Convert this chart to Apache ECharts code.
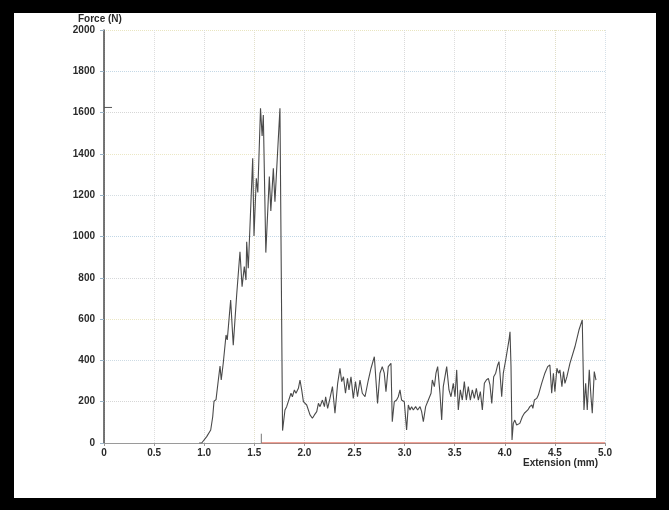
<!DOCTYPE html>
<html>
<head>
<meta charset="utf-8">
<script src="https://cdn.jsdelivr.net/npm/echarts@6/dist/echarts.min.js"></script>
<style>
  html, body { margin: 0; padding: 0; background: #fff; }
  #chart { width: 669px; height: 510px; }
</style>
</head>
<body>
<div id="chart"></div>
<script>
// Tensile test record: force versus crosshead extension
const extensionMm = [
  0.95, 0.975, 1.025, 1.065, 1.085, 1.098, 1.118, 1.141, 1.158, 1.17, 1.19, 1.218, 1.23,
  1.264, 1.29, 1.324, 1.34, 1.357, 1.378, 1.40, 1.417, 1.424, 1.44, 1.484, 1.497, 1.52,
  1.535, 1.562, 1.578, 1.59, 1.615, 1.65, 1.665, 1.69, 1.706, 1.756, 1.782,
  1.806, 1.823, 1.84, 1.866, 1.88, 1.9, 1.916, 1.94, 1.956, 1.973, 1.99, 2.023, 2.056,
  2.08, 2.1, 2.123, 2.14, 2.156, 2.18, 2.2, 2.212, 2.232, 2.255, 2.28, 2.305, 2.332,
  2.355, 2.372, 2.39, 2.41, 2.43, 2.445, 2.465, 2.488, 2.51, 2.53, 2.555, 2.578,
  2.605, 2.638, 2.665, 2.698, 2.73, 2.754, 2.777, 2.797, 2.814, 2.837, 2.864, 2.877,
  2.897, 2.92, 2.937, 2.954, 2.97, 2.997, 3.02, 3.037, 3.054, 3.07, 3.087, 3.11, 3.13,
  3.154, 3.17, 3.187, 3.21, 3.237, 3.264, 3.277, 3.297, 3.313, 3.33, 3.353, 3.37,
  3.386, 3.42, 3.443, 3.463, 3.486, 3.503, 3.52, 3.536, 3.556, 3.576, 3.596, 3.616,
  3.636, 3.656, 3.676, 3.696, 3.716, 3.736, 3.756, 3.776, 3.796, 3.816, 3.836, 3.852,
  3.87, 3.889, 3.909, 3.929, 3.942, 3.952, 3.969, 3.985, 4.009, 4.042, 4.052, 4.062,
  4.072, 4.085, 4.1, 4.118, 4.135, 4.15, 4.175, 4.195, 4.21, 4.23, 4.25, 4.27, 4.28,
  4.295, 4.318, 4.335, 4.368, 4.4, 4.428, 4.45, 4.468, 4.485, 4.5, 4.52, 4.536, 4.55,
  4.57, 4.586, 4.6, 4.62, 4.65, 4.70, 4.74, 4.773, 4.79, 4.807, 4.823, 4.843, 4.86,
  4.873, 4.893, 4.91
];
const forceN = [
  0, 0, 31, 63, 127, 202, 210, 305, 373, 305, 386, 523, 499,
  692, 474, 717, 725, 926, 757, 854, 789, 975, 846, 1379, 1003, 1282,
  1213, 1621, 1487, 1588, 922, 1290, 1124, 1330, 1168, 1621, 60,
  160, 176, 168, 241, 224, 257, 241, 265, 305, 257, 200, 184, 136,
  120, 136, 152, 192, 176, 208, 176, 224, 168, 216, 273, 144, 289,
  362, 297, 321, 241, 313, 257, 321, 216, 297, 224, 305, 241,
  224, 305, 362, 418, 192, 338, 370, 338, 249, 370, 386, 103,
  200, 208, 224, 257, 208, 200, 63, 184, 160, 176, 160, 176, 160,
  176, 152, 103, 176, 208, 241, 305, 273, 338, 370, 241, 111,
  273, 370, 257, 224, 289, 224, 354, 160, 257, 208, 297, 208,
  273, 208, 257, 216, 265, 208, 249, 160, 289, 305, 313, 281,
  192, 321, 338, 378, 394, 338, 224, 338, 402, 499, 539, 370,
  15, 95, 111, 87, 79, 95, 127, 144, 136, 160, 176, 184, 168,
  208, 216, 232, 289, 338, 370, 378, 241, 338, 249, 362, 338, 354,
  273, 346, 289, 321, 386, 466, 547, 596, 160, 289, 160, 354, 224,
  144, 346, 305
];
// Red trace along the zero line after the first grip slip
const baselineX = [1.57, 5.0];
const baselineY = [0, 0];
// Short ticks drawn by the recorder
const slipTickX = [1.57, 1.57];
const slipTickY = [0, 45];
const startTickX = [0, 0.08];
const startTickY = [1625, 1625];

const xTicks = [0, 0.5, 1.0, 1.5, 2.0, 2.5, 3.0, 3.5, 4.0, 4.5, 5.0];
const yTicks = [0, 200, 400, 600, 800, 1000, 1200, 1400, 1600, 1800, 2000];

const zip = (a, b) => a.map((v, i) => [v, b[i]]);

const font = '"Liberation Sans", Arial, sans-serif';
const ySplitColors = ['#cccccc', '#d6d6d6', '#cddbe4', '#ebe7c4', '#d6d8da', '#c2d7e6',
                      '#d4dde2', '#ebe7c4', '#d6d6d6', '#c4d8e6', '#e9e5c0'];
const xSplitColors = ['#d0d0d0', '#dedede', '#dadada', '#e2e0cc', '#dadada', '#dedede',
                      '#dadada', '#dedede', '#dadada', '#e0dec8', '#d6e0e8'];

const chart = echarts.init(document.getElementById('chart'), null, { renderer: 'canvas' });
chart.setOption({
  animation: false,
  backgroundColor: '#ffffff',
  grid: { left: 104, right: 64, top: 30, bottom: 67, containLabel: false },
  xAxis: {
    type: 'value', min: 0, max: 5, interval: 0.5,
    axisLine: { show: true, onZero: false, lineStyle: { color: '#9a9a9a', width: 1 } },
    axisTick: { show: true, length: 3, lineStyle: { color: '#9a9a9a' } },
    axisLabel: {
      margin: 5, fontSize: 10, fontWeight: 'bold', fontFamily: font, color: '#2a2a2a',
      formatter: v => { const i = xTicks.indexOf(v); return i === 0 ? '0' : v.toFixed(1); }
    },
    splitLine: { show: true, lineStyle: { color: xSplitColors, type: [1, 1], width: 1 } }
  },
  yAxis: {
    type: 'value', min: 0, max: 2000, interval: 200,
    axisLine: { show: true, lineStyle: { color: '#4a4a4a', width: 1.5 } },
    axisTick: { show: true, length: 4, lineStyle: { color: '#9ab4c8' } },
    axisLabel: {
      margin: 9, fontSize: 10, fontWeight: 'bold', fontFamily: font,
      color: (v) => (v === 1800 ? '#aab4c0' : '#2a2a2a'),
      formatter: v => String(yTicks[yTicks.indexOf(v)])
    },
    splitLine: { show: true, lineStyle: { color: ySplitColors, type: [1, 1], width: 1 } }
  },
  graphic: [
    { type: 'text', left: 78, top: 14, z: 10,
      style: { text: 'Force (N)', font: 'bold 10px ' + font, fill: '#2a2a2a' } },
    { type: 'text', left: 523, top: 458, z: 10,
      style: { text: 'Extension (mm)', font: 'bold 10px ' + font, fill: '#2a2a2a' } },
    // scanned-page frame
    { type: 'rect', shape: { x: 0, y: 0, width: 669, height: 13 }, style: { fill: '#000' }, z: 20 },
    { type: 'rect', shape: { x: 0, y: 498, width: 669, height: 12 }, style: { fill: '#000' }, z: 20 },
    { type: 'rect', shape: { x: 0, y: 0, width: 14, height: 510 }, style: { fill: '#000' }, z: 20 },
    { type: 'rect', shape: { x: 656, y: 0, width: 13, height: 510 }, style: { fill: '#000' }, z: 20 }
  ],
  series: [
    {
      name: 'Baseline', type: 'line', data: zip(baselineX, baselineY),
      showSymbol: false, silent: true, z: 3,
      lineStyle: { color: '#e0442e', width: 1.2 }
    },
    {
      name: 'Slip tick', type: 'line', data: zip(slipTickX, slipTickY),
      showSymbol: false, silent: true, z: 3,
      lineStyle: { color: '#777', width: 1 }
    },
    {
      name: 'Start tick', type: 'line', data: zip(startTickX, startTickY),
      showSymbol: false, silent: true, z: 3,
      lineStyle: { color: '#555', width: 1 }
    },
    {
      name: 'Force', type: 'line', data: zip(extensionMm, forceN),
      showSymbol: false, z: 4,
      lineStyle: { color: '#4a4a4a', width: 1.1 }
    }
  ]
});
</script>
</body>
</html>
